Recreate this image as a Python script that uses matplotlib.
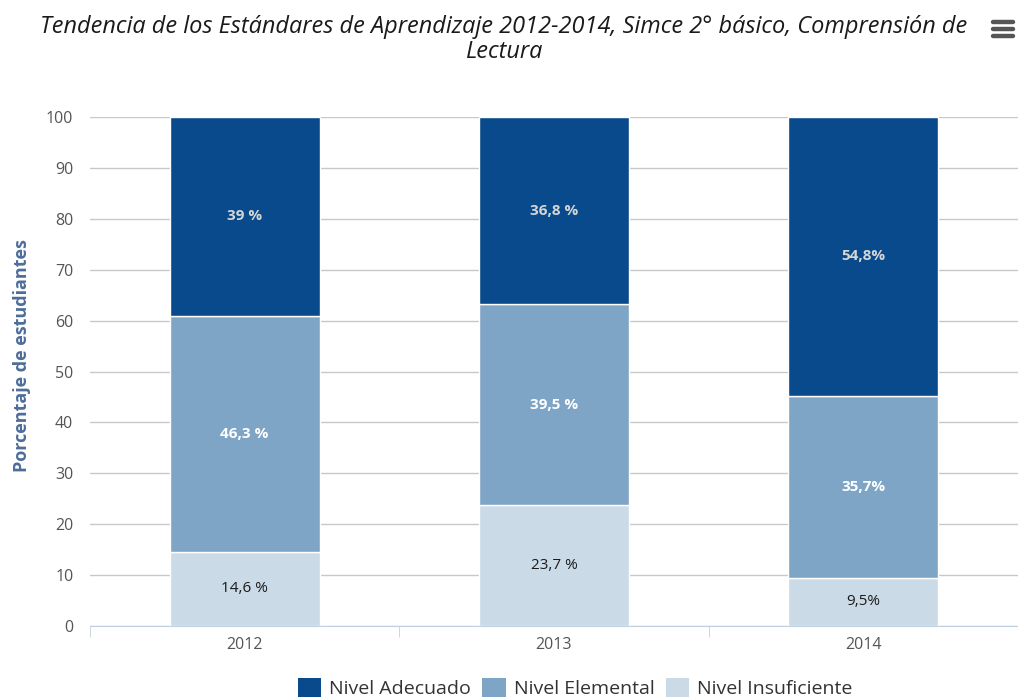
import numpy as np
import matplotlib
matplotlib.use('Agg')
import matplotlib.pyplot as plt
from matplotlib.patches import Patch

plt.rcParams['font.family'] = ['Open Sans', 'DejaVu Sans']

years = ['2012', '2013', '2014']
insuficiente = [14.6, 23.7, 9.5]
elemental = [46.3, 39.5, 35.7]
adecuado = [39.0, 36.8, 54.8]
labels_ins = ['14,6 %', '23,7 %', '9,5%']
labels_ele = ['46,3 %', '39,5 %', '35,7%']
labels_ade = ['39 %', '36,8 %', '54,8%']

c_ade = '#084a8b'
c_ele = '#7fa5c6'
c_ins = '#cadae7'

# percent stacking like the original chart
tot = np.array(insuficiente) + np.array(elemental) + np.array(adecuado)
ins = np.array(insuficiente) / tot * 100
ele = np.array(elemental) / tot * 100
ade = np.array(adecuado) / tot * 100

fig = plt.figure(figsize=(10.18, 7.0), dpi=100)
ax = fig.add_axes([90 / 1018, 74 / 700, 928 / 1018, 509 / 700])

x = np.arange(len(years))
w = 0.484
ax.bar(x, ins, w, color=c_ins, edgecolor='white', linewidth=1, zorder=3)
ax.bar(x, ele, w, bottom=ins, color=c_ele, edgecolor='white', linewidth=1, zorder=3)
ax.bar(x, ade, w, bottom=ins + ele, color=c_ade, edgecolor='white', linewidth=1, zorder=3)

for i in range(len(years)):
    ax.text(x[i], ins[i] / 2, labels_ins[i], ha='center', va='center', fontsize=11, color='#1a1a1a', zorder=4)
    ax.text(x[i], ins[i] + ele[i] / 2, labels_ele[i], ha='center', va='center', fontsize=11,
            color='white', fontweight='bold', zorder=4)
    ax.text(x[i], ins[i] + ele[i] + ade[i] / 2, labels_ade[i], ha='center', va='center', fontsize=11,
            color='#d6d6d6', fontweight='bold', zorder=4)

ax.set_xlim(-0.5, 2.5)
ax.set_ylim(0, 100)
ax.set_yticks(np.arange(0, 101, 10))
ax.set_xticks(x)
ax.set_xticklabels(years)
ax.set_xticks([-0.5, 0.5, 1.5, 2.5], minor=True)
ax.tick_params(axis='x', which='major', length=0, pad=8, labelsize=11.5, labelcolor='#555555')
ax.tick_params(axis='x', which='minor', length=8, color='#c0d0e0')
ax.tick_params(axis='y', length=0, pad=12, labelsize=11.5, labelcolor='#555555')
ax.grid(axis='y', color='#c8c8c8', linewidth=1, zorder=0)
for s in ['top', 'right', 'left']:
    ax.spines[s].set_visible(False)
ax.spines['bottom'].set_color('#c0d0e0')
ax.spines['bottom'].set_zorder(5)

ax.set_ylabel('Porcentaje de estudiantes', fontsize=13, fontweight='bold', color='#4d6d99')
ax.yaxis.set_label_coords(-0.064, 0.532)

fig.text(0.495, 0.961, 'Tendencia de los Estándares de Aprendizaje 2012-2014, Simce 2° básico, Comprensión de',
         ha='center', va='center', fontsize=16.9, style='italic', color='#1a1a1a')
fig.text(0.495, 0.926, 'Lectura', ha='center', va='center', fontsize=16.9, style='italic', color='#1a1a1a')

# menu icon
for yy in [0.968, 0.958, 0.948]:
    fig.add_artist(plt.Line2D([0.975, 0.995], [yy, yy], color='#555555', linewidth=3.2,
                              solid_capstyle='round'))

handles = [Patch(facecolor=c_ade, label='Nivel Adecuado'),
           Patch(facecolor=c_ele, label='Nivel Elemental'),
           Patch(facecolor=c_ins, label='Nivel Insuficiente')]
leg = fig.legend(handles=handles, loc='center', bbox_to_anchor=(0.565, 0.017), ncol=3, frameon=False,
                 fontsize=14, handlelength=1.2, handleheight=1.1, handletextpad=0.4, columnspacing=0.6)
for t in leg.get_texts():
    t.set_color('#333333')

fig.savefig('out.png', dpi=100)
